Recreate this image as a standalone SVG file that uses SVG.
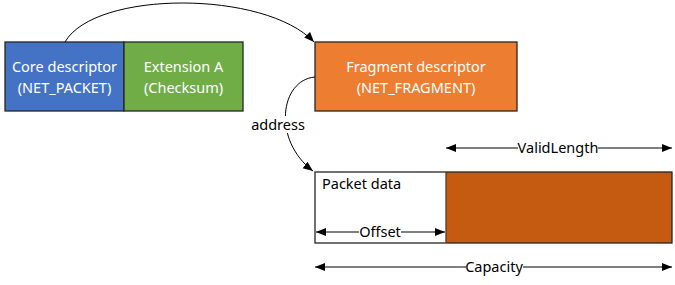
<svg xmlns="http://www.w3.org/2000/svg" width="675" height="285" viewBox="0 0 675 285">
<style>
.box{stroke:#262626;stroke-width:1.3}
.t{font-family:"Noto Sans","Open Sans",sans-serif;font-size:14.5px;text-anchor:middle}
.w{fill:#ffffff}
.k{fill:#000000}
.c{fill:none;stroke:#000;stroke-width:1}
.lbl{fill:#ffffff}
</style>
<defs>
<marker id="ah" viewBox="0 0 10 10" refX="10" refY="5" markerWidth="10" markerHeight="10" markerUnits="userSpaceOnUse" orient="auto-start-reverse">
<path d="M0,1 L10,5 L0,9 z" fill="#000"/>
</marker>
</defs>
<g id="core">
<rect class="box" x="5" y="42" width="119" height="69" fill="#4472C4"/>
<text class="t w" x="64.5" y="72">Core descriptor</text>
<text class="t w" x="64.5" y="93">(NET_PACKET)</text>
</g>
<g id="extA">
<rect class="box" x="124" y="42" width="119" height="69" fill="#70AD47"/>
<text class="t w" x="183.5" y="72">Extension A</text>
<text class="t w" x="183.5" y="93">(Checksum)</text>
</g>
<g id="fragment">
<rect class="box" x="315" y="42" width="202" height="69" fill="#ED7D31"/>
<text class="t w" x="416" y="72">Fragment descriptor</text>
<text class="t w" x="416" y="93">(NET_FRAGMENT)</text>
</g>
<g id="packet">
<rect x="446" y="172" width="226" height="71" fill="#C55A11"/>
<rect class="box" x="315" y="172" width="357" height="71" fill="none"/>
<line x1="446" y1="172" x2="446" y2="243" stroke="#5a3a20" stroke-width="1.3"/>
<text class="t k" x="322" y="189" style="text-anchor:start">Packet data</text>
</g>
<g id="connectors">
<path class="c" d="M65,42 C95,-10 265,-10 314,42" marker-end="url(#ah)"/>
<path class="c" d="M315,77 C280,80 272,140 313,171" marker-end="url(#ah)"/>
<rect x="250" y="116" width="57" height="17" class="lbl"/>
<text class="t k" x="278" y="130">address</text>
<line class="c" x1="316" y1="232" x2="445" y2="232" marker-start="url(#ah)" marker-end="url(#ah)"/>
<rect x="359" y="224" width="42" height="16" class="lbl"/>
<text class="t k" x="380" y="237">Offset</text>
<line class="c" x1="446" y1="148" x2="672" y2="148" marker-start="url(#ah)" marker-end="url(#ah)"/>
<rect x="518" y="140" width="80" height="16" class="lbl"/>
<text class="t k" x="558" y="153">ValidLength</text>
<line class="c" x1="315" y1="267" x2="672" y2="267" marker-start="url(#ah)" marker-end="url(#ah)"/>
<rect x="466" y="259" width="57" height="16" class="lbl"/>
<text class="t k" x="494" y="272">Capacity</text>
</g>
</svg>
